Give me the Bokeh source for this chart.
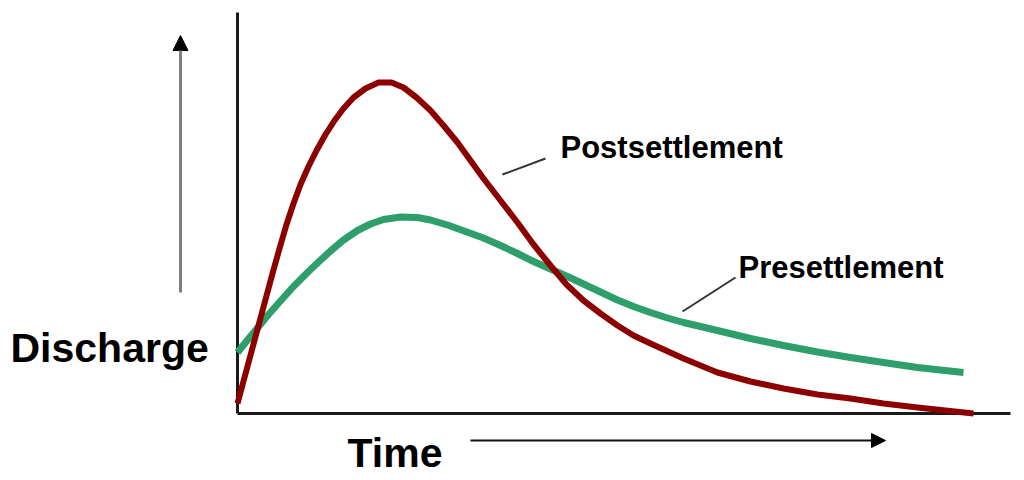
from bokeh.plotting import figure
from bokeh.models import Range1d, Arrow, NormalHead, Label
from bokeh.embed import file_html
from bokeh.resources import INLINE

# ---- data (arbitrary units) ----
post_time = [0, 0.7, 1.4, 2.1, 2.8, 3.5, 4.2, 4.9, 5.6, 6.3, 7.1, 7.9, 8.8, 9.7,
             10.6, 11.6, 12.8, 14.1, 15.4, 16.6, 17.9, 19.3, 20.6, 22.0, 23.3,
             24.6, 26.3, 28.0, 29.6, 31.3, 32.9, 34.6, 36.3, 38.0, 39.6, 41.3,
             44.6, 48.0, 51.3, 54.6, 58.0, 61.3, 64.6, 68.0, 70.8, 73.6]
post_q = [2.0, 7.2, 12.4, 17.6, 22.8, 28.0, 33.0, 37.8, 42.0, 45.8, 49.4, 52.6,
          55.8, 58.6, 61.0, 63.2, 65.0, 66.2, 66.2, 65.2, 63.2, 60.6, 57.6, 54.2,
          50.6, 47.0, 42.6, 38.2, 33.8, 29.6, 25.8, 22.6, 20.0, 17.6, 15.6, 14.0,
          11.0, 8.2, 6.4, 5.0, 3.8, 3.0, 2.0, 1.2, 0.6, 0.0]

pre_time = [0, 1.0, 2.0, 3.1, 4.3, 5.6, 7.0, 8.1, 9.3, 10.6, 12.0, 13.3, 14.6,
            16.3, 18.0, 19.3, 21.0, 22.8, 24.6, 26.3, 28.0, 29.6, 31.3, 33.0,
            34.6, 36.3, 38.0, 39.6, 41.3, 43.0, 44.6, 48.0, 51.3, 54.6, 58.0,
            61.3, 64.6, 68.0, 72.6]
pre_q = [12.2, 14.7, 17.1, 19.8, 22.5, 25.4, 28.2, 30.3, 32.5, 34.7, 36.6, 37.9,
         38.8, 39.3, 39.2, 38.7, 37.7, 36.4, 35.1, 33.6, 32.0, 30.4, 28.9, 27.4,
         25.9, 24.3, 22.7, 21.4, 20.2, 19.1, 18.2, 16.6, 15.0, 13.6, 12.3, 11.2,
         10.2, 9.2, 8.2]

labels = ["Postsettlement", "Presettlement"]
axis_labels = ["Discharge", "Time"]

RED = "#8c0000"
GREEN = "#2e9e6a"
FONT = "Liberation Sans"

p = figure(width=1024, height=480, output_backend="svg", toolbar_location=None,
           x_range=Range1d(-23.7, 78.7), y_range=Range1d(-13.4, 82.6),
           x_axis_location=None, y_axis_location=None, min_border=0)
p.grid.visible = False
p.outline_line_color = None
p.background_fill_color = "white"
p.border_fill_color = "white"

# axis lines
p.line([0, 0], [80.2, 0], line_color="#1a1a1a", line_width=3)
p.line([0, 77.3], [0, 0], line_color="#1a1a1a", line_width=3)

# curves
p.line(pre_time, pre_q, line_color=GREEN, line_width=7, line_join="round", line_cap="butt")
p.line(post_time, post_q, line_color=RED, line_width=6, line_join="round", line_cap="butt")

# leader lines
p.line([26.5, 30.8], [47.8, 51.0], line_color="#333333", line_width=2)
p.line([44.5, 49.8], [20.4, 27.2], line_color="#333333", line_width=2)

# arrows
p.add_layout(Arrow(end=NormalHead(size=15, fill_color="black", line_color="black"),
                   x_start=-5.7, y_start=24.2, x_end=-5.7, y_end=75.6,
                   line_color="#808080", line_width=3))
p.add_layout(Arrow(end=NormalHead(size=14, fill_color="black", line_color="black"),
                   x_start=23.3, y_start=-5.4, x_end=64.8, y_end=-5.4,
                   line_color="#111111", line_width=2))

# texts
def add_label(x, y, txt, size):
    p.add_layout(Label(x=x, y=y, text=txt, text_font=FONT, text_font_style="bold",
                       text_font_size=size, text_color="black",
                       text_baseline="alphabetic", text_align="left"))

add_label(-22.7, 13.2, axis_labels[0], "41px")
add_label(11.0, -7.8, axis_labels[1], "41px")
add_label(32.3, 53.2, labels[0], "31px")
add_label(50.1, 29.2, labels[1], "31px")

open("out.html", "w").write(file_html(p, INLINE))
